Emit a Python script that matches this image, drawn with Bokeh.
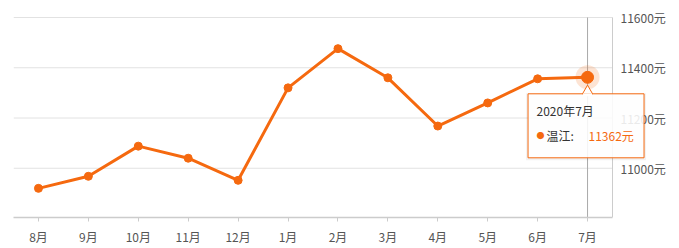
from bokeh.plotting import figure
from bokeh.models import FixedTicker, Range1d
from bokeh.core.properties import value
from bokeh.embed import file_html
from bokeh.resources import INLINE

months = ["8月", "9月", "10月", "11月", "12月", "1月", "2月", "3月", "4月", "5月", "6月", "7月"]
prices = [10920, 10968, 11088, 11040, 10952, 11320, 11476, 11360, 11168, 11260, 11356, 11362]
y_ticks = [11000, 11200, 11400, 11600]
y_unit = "元"
tip_title = "2020年7月"
tip_series = "温江:"
tip_value = "11362元"

ORANGE = "#f5690f"
FONT = "Noto Sans CJK SC"
GRID = "#e2e2e2"
AXIS = "#cccccc"
LABEL = "#555555"

W, H = 679, 248
ML, MR, MT, MB = 13, 2, 2, 31
n = len(months)
cat_px = 599 / n                     # pixel width of one month slot
y_lo, y_hi = 10804, 11600            # visible value span of the plotting area
upp = (y_hi - y_lo) / 200            # value units per pixel
frame_w = W - ML - MR
frame_h = H - MT - MB
x_end = frame_w / cat_px
y_end = y_lo + frame_h * upp

xs = [i + 0.5 for i in range(n)]     # slot centres

p = figure(width=W, height=H, x_range=Range1d(0, x_end), y_range=Range1d(y_lo, y_end),
           output_backend="svg", toolbar_location=None,
           min_border_left=ML, min_border_right=MR, min_border_top=MT, min_border_bottom=MB)
p.outline_line_color = None
p.background_fill_color = "white"
p.border_fill_color = "white"
p.yaxis.visible = False
p.grid.visible = False

# x axis (months)
xa = p.xaxis[0]
xa.ticker = FixedTicker(ticks=xs)
xa.major_label_overrides = {x: m for x, m in zip(xs, months)}
xa.bounds = (0, n)
xa.minor_tick_line_color = None
xa.axis_line_color = AXIS
xa.axis_line_width = 1.5
xa.major_tick_line_color = AXIS
xa.major_tick_out = 4
xa.major_tick_in = 0
xa.major_label_standoff = 6
xa.major_label_text_font = FONT
xa.major_label_text_font_size = "12px"
xa.major_label_text_color = LABEL

# horizontal grid lines and right-hand value scale
p.segment(x0=[0] * len(y_ticks), x1=[n] * len(y_ticks), y0=y_ticks, y1=y_ticks,
          line_color=GRID, line_width=1)
p.segment(x0=[n], x1=[n], y0=[y_lo], y1=[y_hi], line_color=AXIS, line_width=1)
p.text([n] * len(y_ticks), y_ticks, text=[f"{t}{y_unit}" for t in y_ticks], x_offset=8,
       text_font=value(FONT), text_font_size="12px", text_color=LABEL,
       text_baseline="middle", text_align="left")

last_x, last_v = xs[-1], prices[-1]

# crosshair
p.segment(x0=[last_x], x1=[last_x], y0=[y_lo], y1=[y_hi], line_color="#aaaaaa", line_width=1)

p.line(xs, prices, line_color=ORANGE, line_width=3)
p.scatter(xs, prices, size=8, fill_color=ORANGE, line_color=ORANGE)

# highlight
p.scatter([last_x], [last_v], size=24, fill_color=ORANGE, fill_alpha=0.18, line_color=None)
p.scatter([last_x], [last_v], size=12, fill_color=ORANGE, line_color=ORANGE)

# tooltip
box_x = last_x - 1.5 / cat_px
box_y = last_v - 48.5 * upp
p.rect([box_x], [last_v - 49.5 * upp], width=120, height=67, width_units="screen",
       height_units="screen", fill_color="black", fill_alpha=0.05, line_color=None)
p.rect([box_x], [box_y], width=116, height=64, width_units="screen", height_units="screen",
       fill_color="white", fill_alpha=0.88, line_color=ORANGE, line_width=1)
p.scatter([last_x], [last_v - 13.6 * upp], marker="triangle", size=10, fill_color="white",
          line_color=ORANGE, line_width=1)
p.rect([last_x], [last_v - 17.5 * upp], width=9, height=3,
       width_units="screen", height_units="screen", fill_color="white", line_color=None)

tip_kw = dict(text_font=value(FONT), text_baseline="middle", text_align="left")
p.text([last_x], [last_v], text=[tip_title], x_offset=-51, y_offset=33,
       text_font_size="12px", text_color="#333333", **tip_kw)
p.text([last_x], [last_v], text=["●"], x_offset=-51, y_offset=58,
       text_font_size="8px", text_color=ORANGE, **tip_kw)
p.text([last_x], [last_v], text=[tip_series], x_offset=-41, y_offset=58,
       text_font_size="12px", text_color="#333333", **tip_kw)
p.text([last_x], [last_v], text=[tip_value], x_offset=1, y_offset=58,
       text_font_size="12px", text_color=ORANGE, **tip_kw)

open("out.html", "w").write(file_html(p, INLINE))
